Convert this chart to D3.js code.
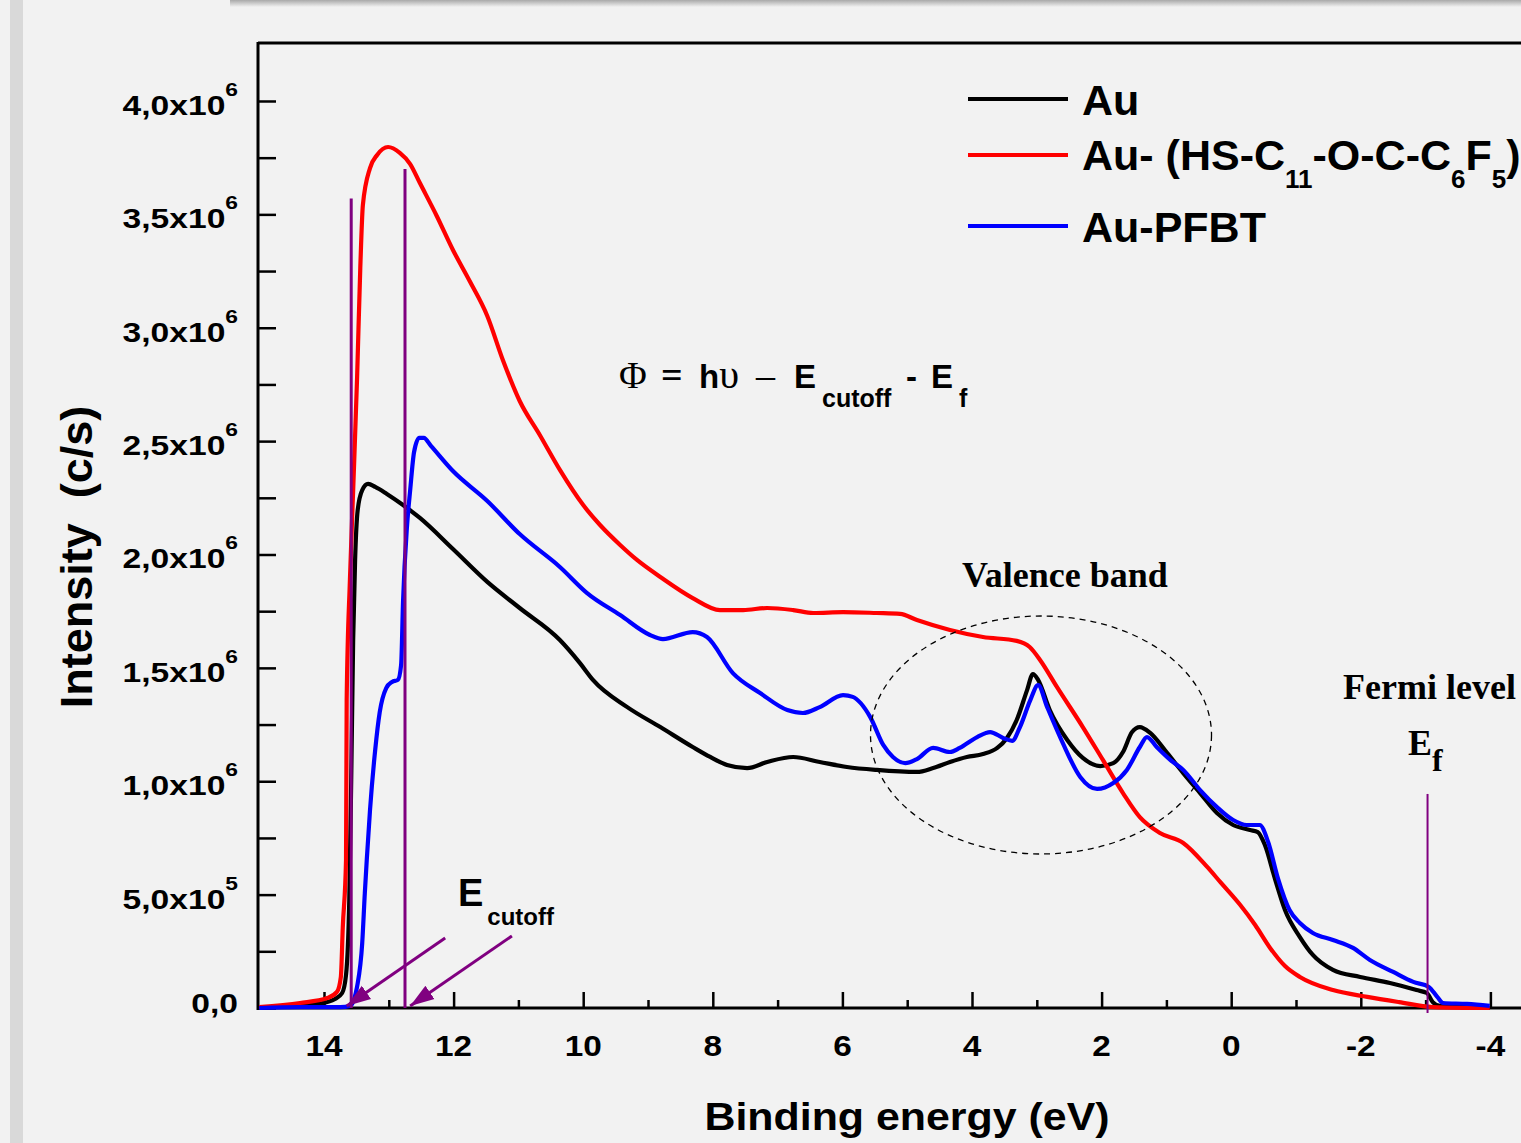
<!DOCTYPE html>
<html>
<head>
<meta charset="utf-8">
<script src="https://cdn.jsdelivr.net/npm/d3@7"></script>
<style>
  body { margin: 0; background: #f2f2f2; overflow: hidden; }
  text { font-family: "Liberation Sans", Arial, sans-serif; font-weight: bold; fill: #000; }
  .serif { font-family: "Liberation Serif", "Times New Roman", serif; }
</style>
</head>
<body>
<div id="chart"></div>
<script>
// binding energy (eV) / intensity (x10^6 c/s)
const auEnergy = [15.0, 14.52, 14.06, 13.83, 13.72, 13.66, 13.61, 13.58, 13.55, 13.52, 13.48, 13.41, 13.32, 13.21, 13.03, 12.78, 12.52, 12.01, 11.48, 10.98, 10.36, 10.05, 9.85, 9.32, 8.81, 8.31, 8.04, 7.78, 7.47, 7.16, 6.76, 6.35, 5.93, 5.47, 4.85, 4.60, 4.34, 4.08, 3.83, 3.61, 3.46, 3.31, 3.15, 3.06, 2.98, 2.80, 2.53, 2.29, 2.02, 1.82, 1.67, 1.53, 1.41, 1.25, 0.99, 0.74, 0.48, 0.22, -0.03, -0.29, -0.41, -0.52, -0.68, -0.83, -1.06, -1.26, -1.57, -1.99, -2.45, -2.86, -3.02, -3.11, -3.22, -3.64, -3.99];
const auIntensity = [0.0, 0.01, 0.02, 0.04, 0.066, 0.146, 0.476, 1.006, 1.623, 1.976, 2.196, 2.284, 2.311, 2.298, 2.267, 2.218, 2.161, 2.024, 1.879, 1.764, 1.623, 1.521, 1.447, 1.327, 1.239, 1.151, 1.107, 1.072, 1.058, 1.085, 1.107, 1.085, 1.063, 1.050, 1.041, 1.058, 1.085, 1.107, 1.120, 1.147, 1.191, 1.270, 1.402, 1.473, 1.447, 1.314, 1.182, 1.103, 1.067, 1.080, 1.129, 1.217, 1.239, 1.213, 1.125, 1.036, 0.948, 0.860, 0.807, 0.785, 0.776, 0.719, 0.565, 0.432, 0.313, 0.234, 0.168, 0.137, 0.110, 0.079, 0.066, 0.026, 0.009, 0.004, 0.0];

const thiolEnergy = [15.0, 14.37, 13.95, 13.80, 13.74, 13.71, 13.66, 13.65, 13.60, 13.55, 13.49, 13.44, 13.40, 13.29, 13.18, 13.01, 12.83, 12.67, 12.52, 12.26, 12.01, 11.75, 11.48, 11.24, 10.98, 10.67, 10.36, 10.00, 9.74, 9.43, 9.17, 8.81, 8.31, 7.89, 7.53, 7.16, 6.76, 6.45, 5.99, 5.47, 5.11, 4.85, 4.34, 3.83, 3.31, 3.11, 2.95, 2.69, 2.29, 1.98, 1.67, 1.41, 1.10, 0.74, 0.37, 0.17, -0.14, -0.37, -0.60, -0.83, -1.06, -1.57, -2.10, -2.59, -3.11, -3.99];
const thiolIntensity = [0.004, 0.022, 0.044, 0.071, 0.137, 0.357, 0.653, 1.358, 1.888, 2.284, 2.774, 3.264, 3.541, 3.704, 3.762, 3.797, 3.771, 3.722, 3.638, 3.493, 3.343, 3.205, 3.052, 2.858, 2.677, 2.527, 2.373, 2.218, 2.130, 2.042, 1.976, 1.901, 1.808, 1.755, 1.755, 1.764, 1.755, 1.742, 1.746, 1.742, 1.738, 1.711, 1.667, 1.636, 1.619, 1.592, 1.535, 1.416, 1.239, 1.094, 0.948, 0.842, 0.772, 0.728, 0.622, 0.556, 0.454, 0.366, 0.265, 0.185, 0.137, 0.079, 0.049, 0.026, 0.004, 0.0];

const pfbtEnergy = [15.0, 14.37, 13.75, 13.60, 13.54, 13.49, 13.41, 13.37, 13.34, 13.29, 13.21, 13.14, 13.04, 12.95, 12.86, 12.81, 12.78, 12.72, 12.67, 12.61, 12.53, 12.46, 12.35, 12.01, 11.48, 10.98, 10.36, 9.94, 9.43, 8.97, 8.77, 8.31, 8.09, 7.69, 7.27, 6.85, 6.61, 6.35, 5.99, 5.84, 5.57, 5.37, 5.22, 5.03, 4.85, 4.60, 4.34, 4.19, 3.92, 3.72, 3.52, 3.38, 3.26, 3.10, 2.98, 2.84, 2.60, 2.33, 2.07, 1.82, 1.61, 1.41, 1.30, 1.15, 0.94, 0.74, 0.48, 0.22, -0.03, -0.24, -0.44, -0.57, -0.72, -0.90, -1.06, -1.26, -1.57, -1.88, -2.14, -2.50, -2.81, -3.05, -3.18, -3.27, -3.64, -3.99];
const pfbtIntensity = [0.0, 0.004, 0.004, 0.009, 0.035, 0.093, 0.287, 0.507, 0.653, 0.873, 1.138, 1.305, 1.411, 1.438, 1.447, 1.513, 1.795, 2.121, 2.284, 2.452, 2.514, 2.514, 2.479, 2.368, 2.236, 2.090, 1.945, 1.830, 1.733, 1.645, 1.627, 1.658, 1.636, 1.477, 1.389, 1.314, 1.301, 1.327, 1.380, 1.372, 1.283, 1.160, 1.107, 1.080, 1.098, 1.147, 1.129, 1.147, 1.195, 1.217, 1.191, 1.178, 1.239, 1.358, 1.424, 1.327, 1.169, 1.019, 0.966, 0.992, 1.050, 1.151, 1.195, 1.151, 1.094, 1.050, 0.961, 0.886, 0.829, 0.807, 0.807, 0.732, 0.573, 0.432, 0.375, 0.331, 0.300, 0.265, 0.212, 0.159, 0.115, 0.093, 0.049, 0.022, 0.018, 0.009];

const seriesNames = ["Au", "Au- (HS-C_{11}-O-C-C_{6}F_{5})", "Au-PFBT"];
const seriesColors = ["#000000", "#ff0000", "#0000ff"];

const xMajorTicks = [14, 12, 10, 8, 6, 4, 2, 0, -2, -4];
const xMinorTicks = [13, 11, 9, 7, 5, 3, 1, -1, -3];
const yTickValues = [0, 0.5, 1.0, 1.5, 2.0, 2.5, 3.0, 3.5, 4.0];
const yMinorTicks = [0.25, 0.75, 1.25, 1.75, 2.25, 2.75, 3.25, 3.75];
const yTickMantissa = ["0,0", "5,0x10", "1,0x10", "1,5x10", "2,0x10", "2,5x10", "3,0x10", "3,5x10", "4,0x10"];
const yTickExponent = ["", "5", "6", "6", "6", "6", "6", "6", "6"];

// cutoff edges and Fermi level (eV)
const cutoffEnergies = [13.58, 12.75];
const cutoffTops = [3.57, 3.70];
const fermiEnergy = -3.03;

const width = 1521, height = 1143;
const svg = d3.select("#chart").append("svg")
    .attr("width", width)
    .attr("height", height);

// page background like the slide it was cut from
svg.append("rect").attr("width", width).attr("height", height).attr("fill", "#f2f2f2");
svg.append("rect").attr("x", 10).attr("y", 0).attr("width", 13).attr("height", height).attr("fill", "#d9d9d9");
const grad = svg.append("defs").append("linearGradient")
    .attr("id", "topShade").attr("x1", 0).attr("y1", 0).attr("x2", 0).attr("y2", 1);
grad.append("stop").attr("offset", "0%").attr("stop-color", "#a9a9a9");
grad.append("stop").attr("offset", "100%").attr("stop-color", "#f2f2f2");
svg.append("rect").attr("x", 230).attr("y", 0).attr("width", width - 230).attr("height", 7).attr("fill", "url(#topShade)");

const x = d3.scaleLinear().domain([15, -4.5]).range([259.2, 1522.8]);
const y = d3.scaleLinear().domain([0, 4.25]).range([1008, 44.3]);

// ticks (inward)
const noDomain = g => g.select(".domain").remove();
svg.append("g").attr("transform", "translate(0,1008)")
    .call(d3.axisBottom(x).tickValues(xMajorTicks).tickSize(-16).tickFormat(""))
    .call(noDomain)
    .selectAll("line").attr("stroke-width", 2.5);
svg.append("g").attr("transform", "translate(0,1008)")
    .call(d3.axisBottom(x).tickValues(xMinorTicks).tickSize(-8).tickFormat(""))
    .call(noDomain)
    .selectAll("line").attr("stroke-width", 2.5);
svg.append("g").attr("transform", "translate(258,0)")
    .call(d3.axisLeft(y).tickValues(yTickValues.concat(yMinorTicks)).tickSize(-18).tickFormat(""))
    .call(noDomain)
    .selectAll("line").attr("stroke-width", 2.5);

// frame
svg.append("line").attr("x1", 258).attr("x2", width).attr("y1", 43).attr("y2", 43)
    .attr("stroke", "#000").attr("stroke-width", 3);
svg.append("line").attr("x1", 258).attr("x2", 258).attr("y1", 42).attr("y2", 1010)
    .attr("stroke", "#000").attr("stroke-width", 3);
svg.append("line").attr("x1", 257).attr("x2", width).attr("y1", 1008).attr("y2", 1008)
    .attr("stroke", "#000").attr("stroke-width", 3);

// tick labels, slightly wide like the original export
yTickValues.forEach((v, i) => {
    const t = svg.append("g")
        .attr("transform", `translate(238,${y(v) + (yTickExponent[i] ? 14 : 5)})`)
        .append("text")
        .attr("transform", "scale(1.2,1)")
        .attr("text-anchor", "end")
        .attr("font-size", 28);
    t.append("tspan").text(yTickMantissa[i]);
    if (yTickExponent[i]) {
        t.append("tspan").text(yTickExponent[i]).attr("font-size", 19).attr("dy", -19);
    }
});
xMajorTicks.forEach(v => {
    svg.append("g")
        .attr("transform", `translate(${x(v)},1056)`)
        .append("text")
        .attr("transform", "scale(1.15,1)")
        .attr("text-anchor", "middle")
        .attr("font-size", 29)
        .text(v);
});

// axis titles
svg.append("g").attr("transform", "translate(907,1130)")
    .append("text").attr("transform", "scale(1.1,1)")
    .attr("text-anchor", "middle").attr("font-size", 39)
    .text("Binding energy (eV)");
svg.append("text")
    .attr("transform", "translate(92,557) rotate(-90)")
    .attr("text-anchor", "middle").attr("font-size", 45)
    .attr("xml:space", "preserve")
    .text("Intensity  (c/s)");

// spectra
const line = d3.line()
    .x(d => x(d[0]))
    .y(d => y(d[1]))
    .curve(d3.curveMonotoneX);
const series = [
    d3.zip(auEnergy, auIntensity),
    d3.zip(thiolEnergy, thiolIntensity),
    d3.zip(pfbtEnergy, pfbtIntensity)
];
series.forEach((pts, i) => {
    svg.append("path")
        .attr("d", line(pts))
        .attr("fill", "none")
        .attr("stroke", seriesColors[i])
        .attr("stroke-width", 4.2)
        .attr("stroke-linejoin", "round");
});

// cutoff and Fermi markers
const purple = "#800080";
cutoffEnergies.forEach((e, i) => {
    svg.append("line")
        .attr("x1", x(e)).attr("x2", x(e))
        .attr("y1", y(cutoffTops[i])).attr("y2", y(0))
        .attr("stroke", purple).attr("stroke-width", 3);
});
svg.append("line")
    .attr("x1", x(fermiEnergy)).attr("x2", x(fermiEnergy))
    .attr("y1", y(0.944)).attr("y2", y(-0.022))
    .attr("stroke", purple).attr("stroke-width", 2);

svg.select("defs").append("marker")
    .attr("id", "arrow").attr("markerUnits", "userSpaceOnUse")
    .attr("viewBox", "0 -9 24 18").attr("refX", 24).attr("refY", 0)
    .attr("markerWidth", 24).attr("markerHeight", 18).attr("orient", "auto")
    .append("path").attr("d", "M0,-8L24,0L0,8Z").attr("fill", purple);
const arrows = [[12.13, 0.309, 13.65, 0.009], [11.10, 0.318, 12.67, 0.009]];
arrows.forEach(a => {
    svg.append("line")
        .attr("x1", x(a[0])).attr("y1", y(a[1]))
        .attr("x2", x(a[2])).attr("y2", y(a[3]))
        .attr("stroke", purple).attr("stroke-width", 3)
        .attr("marker-end", "url(#arrow)");
});

// valence band ellipse
svg.append("ellipse")
    .attr("cx", x(2.935)).attr("cy", y(1.204))
    .attr("rx", 170.5).attr("ry", 119)
    .attr("fill", "none").attr("stroke", "#000")
    .attr("stroke-width", 1.3).attr("stroke-dasharray", "6,5");

// annotations
svg.append("text").attr("class", "serif").attr("x", 962).attr("y", 587)
    .attr("font-size", 36).text("Valence band");
svg.append("text").attr("class", "serif").attr("x", 1343).attr("y", 699)
    .attr("font-size", 36).text("Fermi level");
const ef = svg.append("text").attr("class", "serif").attr("x", 1408).attr("y", 755).attr("font-size", 36);
ef.append("tspan").text("E");
ef.append("tspan").text("f").attr("font-size", 32).attr("dy", 16);

const ec = svg.append("text").attr("x", 458).attr("y", 906).attr("font-size", 38);
ec.append("tspan").text("E");
ec.append("tspan").text("cutoff").attr("font-size", 24).attr("dy", 19).attr("dx", 4);

// work function equation
const eq = svg.append("text").attr("y", 388).attr("font-size", 33);
eq.append("tspan").attr("x", 619).attr("class", "serif").attr("font-weight", "normal").attr("font-size", 38).text("Φ");
eq.append("tspan").attr("x", 661).attr("class", "serif").attr("font-weight", "bold").attr("font-size", 38).text("=");
eq.append("tspan").attr("x", 699).text("h");
eq.append("tspan").attr("class", "serif").attr("font-weight", "normal").attr("font-size", 40).text("υ");
eq.append("tspan").attr("x", 756).attr("class", "serif").attr("font-weight", "normal").attr("font-size", 38).text("–");
eq.append("tspan").attr("x", 794).text("E");
eq.append("tspan").attr("x", 822).attr("dy", 19).attr("font-size", 25).text("cutoff");
eq.append("tspan").attr("x", 906).attr("dy", -19).text("-");
eq.append("tspan").attr("x", 931).text("E");
eq.append("tspan").attr("x", 959).attr("dy", 19).attr("font-size", 25).text("f");

// legend
const legendLineY = [99, 155, 226];
const legendTextY = [115, 170, 242];
seriesNames.forEach((name, i) => {
    svg.append("line")
        .attr("x1", 968).attr("x2", 1068)
        .attr("y1", legendLineY[i]).attr("y2", legendLineY[i])
        .attr("stroke", seriesColors[i]).attr("stroke-width", 4);
    const t = svg.append("text").attr("x", 1082).attr("y", legendTextY[i]).attr("font-size", 43);
    let shift = 0;
    name.split(/(_\{[^}]*\})/).filter(s => s.length).forEach(p => {
        const sub = p.startsWith("_{");
        const target = sub ? 18 : 0;
        t.append("tspan")
            .text(sub ? p.slice(2, -1) : p)
            .attr("font-size", sub ? 26 : 43)
            .attr("dy", target - shift);
        shift = target;
    });
});
</script>
</body>
</html>
